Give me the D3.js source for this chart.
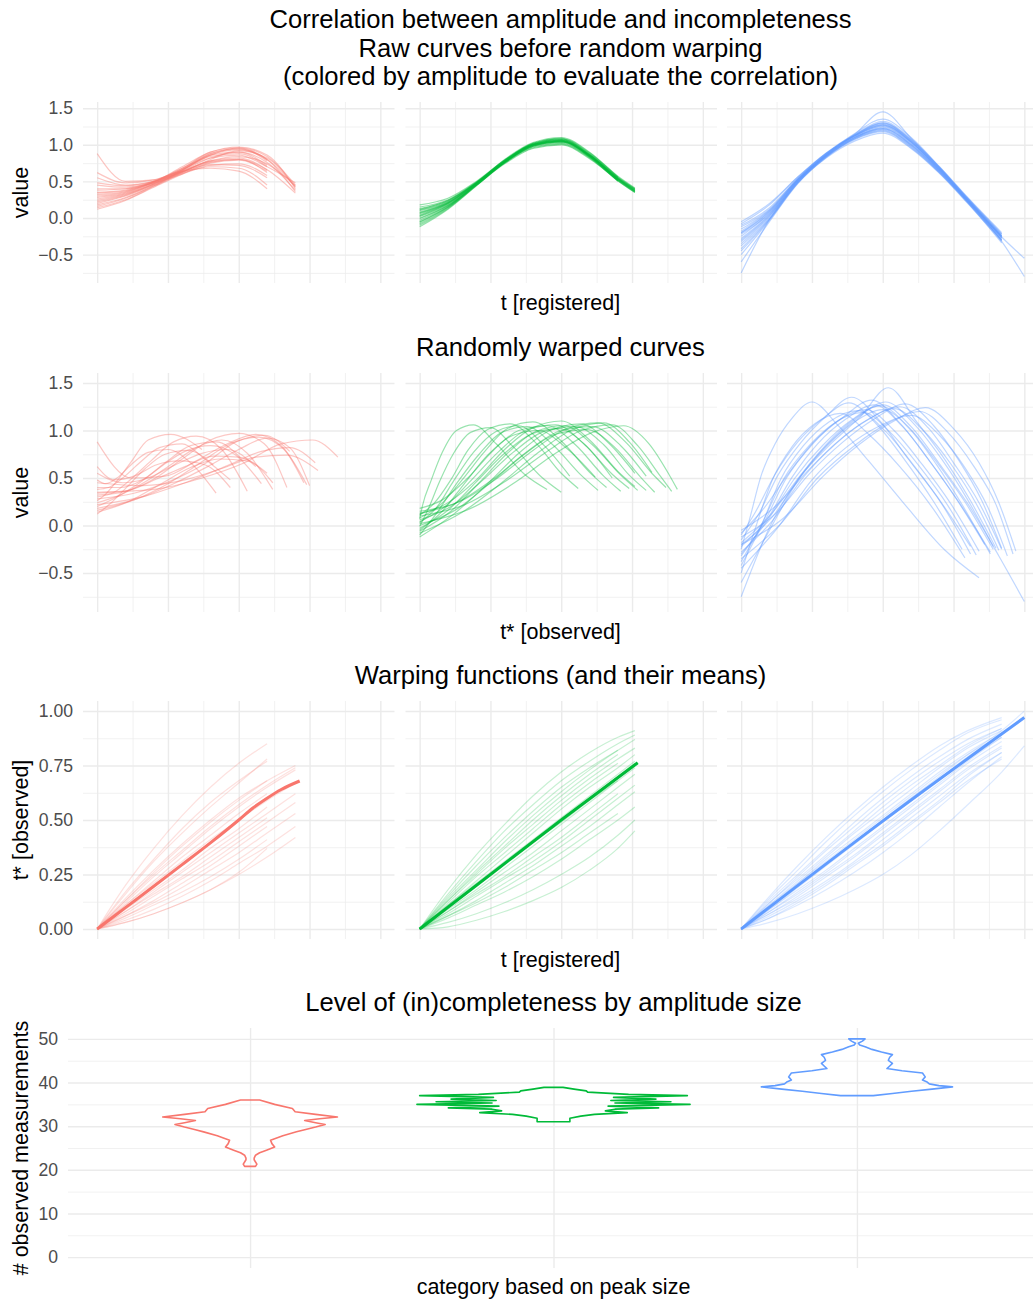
<!DOCTYPE html>
<html>
<head>
<meta charset="utf-8">
<script src="https://cdn.jsdelivr.net/npm/d3@7"></script>
<style>
  body { margin: 0; background: #fff; }
</style>
</head>
<body>
<script>
// ---- data ----
// three amplitude groups, each facet of rows 1-3 is one group
var groupNames = ['small', 'medium', 'large'];
var groupColors = ['#F8766D', '#00BA38', '#619CFF'];

// registered time grid per group (curves use the first n entries)
var redT = [0, 0.1, 0.2, 0.3, 0.4, 0.5, 0.6, 0.7];
var greenT = [0, 0.1, 0.2, 0.3, 0.4, 0.5, 0.6, 0.7, 0.76];
var blueT = [0, 0.1, 0.2, 0.3, 0.4, 0.5, 0.6, 0.7, 0.8, 0.92, 1.0];

// raw curve values at the registered times
var redValues = [
  [0.22, 0.31, 0.46, 0.63, 0.78, 0.82, 0.66],
  [0.35, 0.38, 0.5, 0.66, 0.86, 0.9, 0.72],
  [0.18, 0.28, 0.44, 0.62, 0.8, 0.92, 0.82, 0.42],
  [0.45, 0.42, 0.48, 0.6, 0.72, 0.74, 0.58],
  [0.28, 0.34, 0.47, 0.65, 0.88, 0.95, 0.78],
  [0.88, 0.5, 0.52, 0.68, 0.86, 0.96, 0.84, 0.45],
  [0.14, 0.25, 0.43, 0.61, 0.7, 0.68, 0.45],
  [0.32, 0.36, 0.49, 0.7, 0.9, 0.97, 0.86, 0.4],
  [0.55, 0.45, 0.5, 0.63, 0.76, 0.8, 0.62],
  [0.24, 0.32, 0.46, 0.64, 0.82, 0.9, 0.76, 0.38],
  [0.4, 0.4, 0.48, 0.66, 0.84, 0.88, 0.7],
  [0.2, 0.3, 0.45, 0.63, 0.78, 0.84, 0.74, 0.44],
  [0.62, 0.48, 0.52, 0.64, 0.68, 0.64, 0.4],
  [0.3, 0.35, 0.49, 0.68, 0.88, 0.94, 0.8, 0.36],
  [0.12, 0.24, 0.42, 0.6, 0.75, 0.79, 0.64],
  [0.38, 0.4, 0.5, 0.66, 0.82, 0.86, 0.7, 0.48],
  [0.26, 0.33, 0.47, 0.67, 0.9, 0.96, 0.8],
  [0.48, 0.44, 0.5, 0.64, 0.77, 0.8, 0.66, 0.34],
  [0.16, 0.27, 0.44, 0.65, 0.86, 0.93, 0.8, 0.43],
  [0.34, 0.37, 0.49, 0.62, 0.73, 0.72, 0.55]
];
var greenValues = [
  [0.02, 0.18, 0.46, 0.76, 0.98, 1.05, 0.86, 0.54, 0.38],
  [0.1, 0.22, 0.48, 0.78, 1.0, 1.06, 0.84, 0.52, 0.36],
  [-0.08, 0.14, 0.45, 0.77, 1.01, 1.08, 0.88, 0.56],
  [0.15, 0.25, 0.49, 0.79, 1.02, 1.08, 0.87, 0.55, 0.4],
  [0.0, 0.17, 0.45, 0.75, 0.96, 1.01, 0.82, 0.51, 0.35],
  [-0.12, 0.12, 0.44, 0.76, 1.0, 1.07, 0.86, 0.55],
  [0.06, 0.2, 0.47, 0.77, 0.99, 1.04, 0.85, 0.53, 0.37],
  [0.12, 0.24, 0.48, 0.8, 1.03, 1.1, 0.9, 0.57, 0.41],
  [-0.03, 0.16, 0.46, 0.76, 0.97, 1.02, 0.83, 0.5],
  [0.04, 0.2, 0.47, 0.78, 1.01, 1.06, 0.86, 0.54, 0.39],
  [0.18, 0.27, 0.5, 0.79, 1.0, 1.05, 0.85, 0.52, 0.36],
  [-0.05, 0.15, 0.45, 0.74, 0.95, 1.0, 0.81, 0.51],
  [0.08, 0.21, 0.48, 0.78, 1.02, 1.09, 0.89, 0.56, 0.4],
  [-0.1, 0.13, 0.44, 0.75, 0.98, 1.04, 0.85, 0.53, 0.37],
  [0.03, 0.19, 0.47, 0.77, 0.99, 1.05, 0.84, 0.52],
  [0.11, 0.23, 0.48, 0.79, 1.01, 1.07, 0.87, 0.55, 0.39],
  [-0.01, 0.17, 0.46, 0.76, 0.98, 1.03, 0.83, 0.51, 0.35],
  [0.07, 0.21, 0.47, 0.77, 1.0, 1.06, 0.86, 0.54, 0.38],
  [0.13, 0.24, 0.49, 0.78, 1.0, 1.04, 0.84, 0.52],
  [-0.06, 0.15, 0.45, 0.76, 0.99, 1.05, 0.85, 0.53, 0.37]
];
var blueValues = [
  [-0.2, 0.08, 0.52, 0.86, 1.1, 1.24, 1.02, 0.66, 0.24, -0.27],
  [-0.35, 0.02, 0.5, 0.84, 1.08, 1.2, 0.98, 0.63, 0.22, -0.3],
  [-0.12, 0.12, 0.54, 0.88, 1.12, 1.28, 1.05, 0.68, 0.26, -0.24],
  [-0.45, -0.02, 0.48, 0.82, 1.05, 1.16, 0.95, 0.61, 0.2, -0.32],
  [-0.28, 0.05, 0.51, 0.85, 1.1, 1.23, 1.01, 0.65, 0.23, -0.26],
  [-0.6, -0.05, 0.47, 0.83, 1.09, 1.22, 1.0, 0.64, 0.22, -0.3],
  [-0.18, 0.1, 0.53, 0.87, 1.13, 1.3, 1.07, 0.69, 0.27, -0.22],
  [-0.3, 0.04, 0.5, 0.85, 1.11, 1.26, 1.04, 0.67, 0.25, -0.25],
  [-0.08, 0.18, 0.56, 0.89, 1.14, 1.32, 1.08, 0.7, 0.28, -0.2],
  [-0.22, 0.06, 0.51, 0.86, 1.12, 1.27, 1.04, 0.66, 0.24, -0.28],
  [-0.38, 0.0, 0.49, 0.84, 1.08, 1.19, 0.97, 0.62, 0.21, -0.31],
  [-0.15, 0.11, 0.53, 0.87, 1.15, 1.35, 1.1, 0.7, 0.27, -0.22],
  [-0.5, -0.03, 0.48, 0.83, 1.07, 1.18, 0.96, 0.62, 0.21, -0.34],
  [-0.25, 0.07, 0.52, 0.86, 1.13, 1.3, 1.06, 0.68, 0.25, -0.26, -0.55],
  [-0.05, 0.2, 0.56, 0.88, 1.12, 1.25, 1.03, 0.66, 0.24, -0.25],
  [-0.32, 0.03, 0.5, 0.85, 1.1, 1.22, 1.0, 0.64, 0.23, -0.27],
  [-0.2, 0.09, 0.52, 0.87, 1.14, 1.45, 1.09, 0.69, 0.26, -0.24],
  [-0.42, -0.01, 0.49, 0.84, 1.09, 1.21, 0.99, 0.63, 0.22, -0.3],
  [-0.1, 0.14, 0.54, 0.88, 1.13, 1.29, 1.06, 0.68, 0.25, -0.25],
  [-0.75, -0.02, 0.48, 0.85, 1.12, 1.27, 1.04, 0.65, 0.23, -0.32, -0.8]
];

// warping functions h(t): observed time t* for each registered time
var redWarps = [
  [0, 0.17, 0.32, 0.46, 0.58, 0.68, 0.77],
  [0, 0.2, 0.37, 0.52, 0.65, 0.76, 0.85],
  [0, 0.14, 0.27, 0.39, 0.5, 0.6, 0.68, 0.75],
  [0, 0.16, 0.31, 0.44, 0.56, 0.67, 0.78],
  [0, 0.13, 0.26, 0.38, 0.49, 0.59, 0.68],
  [0, 0.12, 0.24, 0.35, 0.46, 0.56, 0.65, 0.73],
  [0, 0.11, 0.22, 0.33, 0.43, 0.53, 0.62],
  [0, 0.1, 0.2, 0.3, 0.4, 0.5, 0.59, 0.67],
  [0, 0.09, 0.18, 0.27, 0.37, 0.46, 0.56],
  [0, 0.08, 0.17, 0.26, 0.35, 0.44, 0.53, 0.62],
  [0, 0.08, 0.16, 0.24, 0.33, 0.42, 0.51],
  [0, 0.07, 0.15, 0.23, 0.31, 0.4, 0.49, 0.58],
  [0, 0.06, 0.13, 0.21, 0.29, 0.38, 0.47],
  [0, 0.06, 0.12, 0.19, 0.27, 0.35, 0.44, 0.53],
  [0, 0.05, 0.11, 0.17, 0.24, 0.32, 0.41],
  [0, 0.04, 0.09, 0.15, 0.22, 0.3, 0.38, 0.47],
  [0, 0.03, 0.07, 0.12, 0.18, 0.26, 0.37],
  [0, 0.03, 0.07, 0.12, 0.18, 0.25, 0.33, 0.42],
  [0, 0.13, 0.25, 0.36, 0.47, 0.57, 0.66, 0.74],
  [0, 0.11, 0.21, 0.31, 0.41, 0.5, 0.6]
];
var greenWarps = [
  [0, 0.18, 0.34, 0.48, 0.61, 0.72, 0.81, 0.88, 0.91],
  [0, 0.16, 0.31, 0.45, 0.57, 0.68, 0.77, 0.85, 0.89],
  [0, 0.15, 0.29, 0.42, 0.54, 0.65, 0.74, 0.82],
  [0, 0.14, 0.27, 0.4, 0.52, 0.63, 0.73, 0.82, 0.87],
  [0, 0.13, 0.25, 0.37, 0.48, 0.59, 0.69, 0.78, 0.83],
  [0, 0.12, 0.24, 0.35, 0.46, 0.57, 0.67, 0.76],
  [0, 0.11, 0.22, 0.33, 0.44, 0.55, 0.65, 0.74, 0.8],
  [0, 0.1, 0.2, 0.3, 0.4, 0.5, 0.6, 0.7, 0.76],
  [0, 0.1, 0.2, 0.3, 0.4, 0.49, 0.59, 0.68],
  [0, 0.09, 0.18, 0.28, 0.38, 0.48, 0.58, 0.68, 0.74],
  [0, 0.08, 0.17, 0.26, 0.35, 0.45, 0.55, 0.65, 0.71],
  [0, 0.08, 0.16, 0.24, 0.33, 0.42, 0.52, 0.62],
  [0, 0.07, 0.15, 0.23, 0.31, 0.4, 0.5, 0.6, 0.66],
  [0, 0.06, 0.13, 0.21, 0.29, 0.38, 0.47, 0.57, 0.63],
  [0, 0.06, 0.12, 0.19, 0.27, 0.35, 0.44, 0.53],
  [0, 0.05, 0.11, 0.17, 0.24, 0.32, 0.41, 0.5, 0.56],
  [0, 0.03, 0.07, 0.12, 0.18, 0.25, 0.33, 0.43, 0.5],
  [0, 0.01, 0.04, 0.08, 0.13, 0.19, 0.27, 0.37, 0.45],
  [0, 0.13, 0.26, 0.38, 0.5, 0.61, 0.71, 0.8],
  [0, 0.11, 0.21, 0.31, 0.41, 0.51, 0.61, 0.71, 0.77]
];
var blueWarps = [
  [0, 0.15, 0.29, 0.42, 0.54, 0.65, 0.75, 0.84, 0.91, 0.97],
  [0, 0.14, 0.27, 0.4, 0.52, 0.63, 0.73, 0.82, 0.9, 0.96],
  [0, 0.12, 0.24, 0.36, 0.47, 0.58, 0.68, 0.77, 0.85, 0.92],
  [0, 0.13, 0.25, 0.37, 0.49, 0.6, 0.7, 0.79, 0.87, 0.94],
  [0, 0.11, 0.22, 0.33, 0.44, 0.54, 0.64, 0.74, 0.83, 0.91],
  [0, 0.1, 0.2, 0.3, 0.4, 0.5, 0.6, 0.69, 0.78, 0.88],
  [0, 0.1, 0.21, 0.31, 0.41, 0.51, 0.61, 0.71, 0.8, 0.89],
  [0, 0.09, 0.19, 0.29, 0.39, 0.49, 0.59, 0.69, 0.79, 0.89],
  [0, 0.08, 0.17, 0.26, 0.36, 0.46, 0.56, 0.66, 0.76, 0.86],
  [0, 0.09, 0.18, 0.27, 0.37, 0.47, 0.57, 0.67, 0.77, 0.88],
  [0, 0.07, 0.15, 0.24, 0.33, 0.43, 0.53, 0.63, 0.73, 0.83],
  [0, 0.06, 0.13, 0.21, 0.3, 0.39, 0.49, 0.59, 0.7, 0.81],
  [0, 0.05, 0.11, 0.18, 0.26, 0.35, 0.45, 0.56, 0.67, 0.79],
  [0, 0.03, 0.07, 0.12, 0.18, 0.25, 0.34, 0.45, 0.57, 0.72, 0.84],
  [0, 0.12, 0.23, 0.34, 0.45, 0.56, 0.66, 0.75, 0.84, 0.92],
  [0, 0.08, 0.16, 0.25, 0.34, 0.44, 0.54, 0.64, 0.74, 0.84],
  [0, 0.11, 0.21, 0.32, 0.42, 0.52, 0.62, 0.72, 0.81, 0.9],
  [0, 0.07, 0.14, 0.22, 0.31, 0.41, 0.51, 0.61, 0.71, 0.81],
  [0, 0.05, 0.12, 0.2, 0.29, 0.38, 0.48, 0.58, 0.68, 0.78],
  [0, 0.1, 0.2, 0.3, 0.4, 0.5, 0.6, 0.7, 0.8, 0.91, 1.0]
];

// mean warping functions (thick lines)
var redMeanT = [0, 0.1, 0.2, 0.3, 0.4, 0.5, 0.55, 0.6, 0.65, 0.715];
var redMeanWarp = [0, 0.098, 0.196, 0.295, 0.395, 0.5, 0.555, 0.6, 0.64, 0.679];
var greenMeanT = [0, 0.25, 0.5, 0.77];
var greenMeanWarp = [0, 0.25, 0.5, 0.763];
var blueMeanT = [0, 0.5, 1.0];
var blueMeanWarp = [0, 0.495, 0.97];

// violin outlines: number of observed measurements and relative width
var redViolinCount = [20.8, 21.3, 21.8, 22.3, 22.7, 23.35, 23.9, 24.5, 25.25, 26.0, 26.8, 27.8, 28.7, 29.2, 29.8, 30.4, 30.8, 31.3, 31.7, 32.1, 32.7, 33.3, 34.05, 35.0, 36.0];
var redViolinWidth = [0.04, 0.05, 0.04, 0.03, 0.03, 0.04, 0.07, 0.12, 0.18, 0.16, 0.15, 0.24, 0.34, 0.40, 0.48, 0.55, 0.48, 0.40, 0.51, 0.64, 0.48, 0.33, 0.31, 0.18, 0.07];
var greenViolinCount = [31.0, 31.8, 32.3, 32.7, 33.1, 33.5, 33.9, 34.2, 34.6, 35.0, 35.3, 35.6, 35.9, 36.2, 36.6, 37.0, 37.3, 37.8, 38.1, 38.5, 38.9];
var greenViolinWidth = [0.12, 0.12, 0.20, 0.30, 0.54, 0.38, 0.45, 0.77, 0.40, 1.00, 0.45, 0.86, 0.42, 0.75, 0.44, 0.98, 0.55, 0.25, 0.24, 0.15, 0.07];
var blueViolinCount = [37.0, 37.5, 38.0, 38.5, 39.0, 39.3, 39.7, 40.2, 40.6, 41.3, 42.2, 42.7, 43.2, 43.8, 44.4, 45.1, 45.8, 46.4, 47.0, 47.6, 48.2, 48.6, 49.0, 49.5, 50.0];
var blueViolinWidth = [0.12, 0.26, 0.40, 0.55, 0.70, 0.60, 0.53, 0.51, 0.48, 0.50, 0.48, 0.33, 0.22, 0.24, 0.26, 0.23, 0.24, 0.26, 0.18, 0.11, 0.06, 0.02, 0.01, 0.04, 0.06];

// ticks
var valueTicks = [-0.5, 0, 0.5, 1, 1.5];
var valueMinor = [-0.75, -0.25, 0.25, 0.75, 1.25];
var timeTicks = [0, 0.25, 0.5, 0.75, 1];
var timeMinor = [0.125, 0.375, 0.625, 0.875];
var countTicks = [0, 10, 20, 30, 40, 50];
var countMinor = [5, 15, 25, 35, 45];

// ---- drawing ----
var font = '"Liberation Sans", Arial, Helvetica, sans-serif';
var gridColor = '#EBEBEB';

var groups = [
  {color: groupColors[0], t: redT, values: redValues, warps: redWarps, meanT: redMeanT, meanWarp: redMeanWarp,
   count: redViolinCount, width: redViolinWidth},
  {color: groupColors[1], t: greenT, values: greenValues, warps: greenWarps, meanT: greenMeanT, meanWarp: greenMeanWarp,
   count: greenViolinCount, width: greenViolinWidth},
  {color: groupColors[2], t: blueT, values: blueValues, warps: blueWarps, meanT: blueMeanT, meanWarp: blueMeanWarp,
   count: blueViolinCount, width: blueViolinWidth}
];

var svg = d3.select('body')
            .append('svg')
            .attr('width', 1033)
            .attr('height', 1303);

// facet columns for rows 1-3
var facetLefts = [83, 405.5, 727];
var facetWidth = 311.5;
function facetX(i) {
  return d3.scaleLinear().domain([-0.05, 1.05]).range([facetLefts[i], facetLefts[i] + facetWidth]);
}

var yRaw = d3.scaleLinear().domain([-0.888, 1.585]).range([283, 102]);
var yWarped = d3.scaleLinear().domain([-0.91, 1.605]).range([612, 373]);
var yWarp = d3.scaleLinear().domain([-0.046, 1.046]).range([939, 701]);
var yCount = d3.scaleLinear().domain([-2.5, 52.5]).range([1268, 1028]);

function styleGrid(sel, width) {
  sel.select('.domain').remove();
  sel.selectAll('.tick text').remove();
  sel.selectAll('.tick line').attr('stroke', gridColor).attr('stroke-width', width);
}

function drawGrid(g, x, y, xMajor, xMinor, yMajor, yMinor) {
  var left = x.range()[0], right = x.range()[1];
  var top = y.range()[1], bottom = y.range()[0];
  var wide = right - left, tall = bottom - top;
  if (yMinor) {
    g.append('g').attr('transform', 'translate(' + left + ',0)')
      .call(d3.axisLeft(y).tickValues(yMinor).tickSize(-wide))
      .call(styleGrid, 0.7);
  }
  if (xMinor) {
    g.append('g').attr('transform', 'translate(0,' + bottom + ')')
      .call(d3.axisBottom(x).tickValues(xMinor).tickSize(-tall))
      .call(styleGrid, 0.7);
  }
  g.append('g').attr('transform', 'translate(' + left + ',0)')
    .call(d3.axisLeft(y).tickValues(yMajor).tickSize(-wide))
    .call(styleGrid, 1.4);
  g.append('g').attr('transform', 'translate(0,' + bottom + ')')
    .call(d3.axisBottom(x).tickValues(xMajor).tickSize(-tall))
    .call(styleGrid, 1.4);
}

function drawTickLabels(y, ticks, fmt, left) {
  svg.append('g').attr('transform', 'translate(' + left + ',0)')
    .call(d3.axisLeft(y).tickValues(ticks).tickSize(0).tickPadding(10).tickFormat(fmt))
    .call(function (a) {
      a.select('.domain').remove();
      a.selectAll('text')
        .attr('font-size', 17.6)
        .attr('font-family', font)
        .attr('fill', '#4D4D4D');
    });
}

function addText(txt, x, y, size, rotate) {
  var t = svg.append('text')
    .attr('text-anchor', 'middle')
    .attr('font-family', font)
    .attr('font-size', size)
    .attr('fill', '#000')
    .text(txt);
  if (rotate) {
    t.attr('transform', 'translate(' + x + ',' + y + ') rotate(-90)');
  } else {
    t.attr('x', x).attr('y', y);
  }
}

function pairs(xs, ys) {
  return ys.map(function (v, k) { return [xs[k], v]; });
}

// draws one row of three facets; pointsFor returns [x, y] pairs for curve j of a group
function drawFacetRow(y, yMajor, yMinor, pointsFor, opacity, curve, withMean) {
  groups.forEach(function (grp, i) {
    var x = facetX(i);
    var panel = svg.append('g');
    drawGrid(panel, x, y, timeTicks, timeMinor, yMajor, yMinor);

    var line = d3.line()
                 .x(function (d) { return x(d[0]); })
                 .y(function (d) { return y(d[1]); })
                 .curve(curve);

    panel.append('g').selectAll('path')
      .data(grp.values.map(function (v, j) { return pointsFor(grp, j); }))
      .enter()
        .append('path')
        .attr('d', line)
        .attr('fill', 'none')
        .attr('stroke', grp.color)
        .attr('stroke-opacity', opacity)
        .attr('stroke-width', 1.2)
        .attr('stroke-linejoin', 'round');

    if (withMean) {
      panel.append('path')
        .attr('d', line(pairs(grp.meanT, grp.meanWarp)))
        .attr('fill', 'none')
        .attr('stroke', grp.color)
        .attr('stroke-width', 3)
        .attr('stroke-linecap', 'butt');
    }
  });
}

// row 1: raw curves on registered time
drawFacetRow(yRaw, valueTicks, valueMinor, function (grp, j) {
  return pairs(grp.t, grp.values[j]);
}, 0.42, d3.curveMonotoneX, false);

// row 2: same observations on observed time t* = h(t)
drawFacetRow(yWarped, valueTicks, valueMinor, function (grp, j) {
  return pairs(grp.warps[j], grp.values[j]);
}, 0.4, d3.curveMonotoneX, false);

// row 3: warping functions and their means
drawFacetRow(yWarp, timeTicks, [0.125, 0.375, 0.625, 0.875], function (grp, j) {
  return pairs(grp.t, grp.warps[j]);
}, 0.22, d3.curveMonotoneX, true);

drawTickLabels(yRaw, valueTicks, d3.format('.1f'), 83);
drawTickLabels(yWarped, valueTicks, d3.format('.1f'), 83);
drawTickLabels(yWarp, timeTicks, d3.format('.2f'), 83);

// row 4: violins of observed measurement counts
var xCat = d3.scalePoint().domain(groupNames).range([68, 1039]).padding(0.6);
var halfWidth = d3.scaleLinear().domain([0, 1]).range([0, xCat.step() * 0.45]);
var violinPanel = svg.append('g');
// drawGrid reads x.range() for the width, which is right for a point scale too
drawGrid(violinPanel, xCat, yCount, groupNames, null, countTicks, countMinor);

groups.forEach(function (grp, i) {
  var cx = xCat(groupNames[i]);
  var pts = grp.count.map(function (c, k) { return {c: c, w: grp.width[k], side: 1}; });
  var back = grp.count.map(function (c, k) { return {c: c, w: grp.width[k], side: -1}; }).reverse();
  var outline = d3.line()
                  .x(function (d) { return cx + d.side * halfWidth(d.w); })
                  .y(function (d) { return yCount(d.c); });
  violinPanel.append('path')
    .attr('d', outline(pts.concat(back)) + 'Z')
    .attr('fill', 'none')
    .attr('stroke', grp.color)
    .attr('stroke-width', 1.6)
    .attr('stroke-linejoin', 'round');
});

drawTickLabels(yCount, countTicks, d3.format('d'), 68);

// ---- titles ----
addText('Correlation between amplitude and incompleteness', 560.5, 28, 25.6);
addText('Raw curves before random warping', 560.5, 56.5, 25.6);
addText('(colored by amplitude to evaluate the correlation)', 560.5, 85, 25.6);
addText('t [registered]', 560.5, 310, 21.5);

addText('Randomly warped curves', 560.5, 356, 25.6);
addText('t* [observed]', 560.5, 639, 21.5);

addText('Warping functions (and their means)', 560.5, 684, 25.6);
addText('t [registered]', 560.5, 967, 21.5);

addText('Level of (in)completeness by amplitude size', 553.5, 1011, 25.6);
addText('category based on peak size', 553.5, 1294, 21.5);

addText('value', 28, 192.5, 21.5, true);
addText('value', 28, 492.5, 21.5, true);
addText('t* [observed]', 28, 820, 21.5, true);
addText('# observed measurements', 28, 1148, 21.5, true);
</script>
</body>
</html>
